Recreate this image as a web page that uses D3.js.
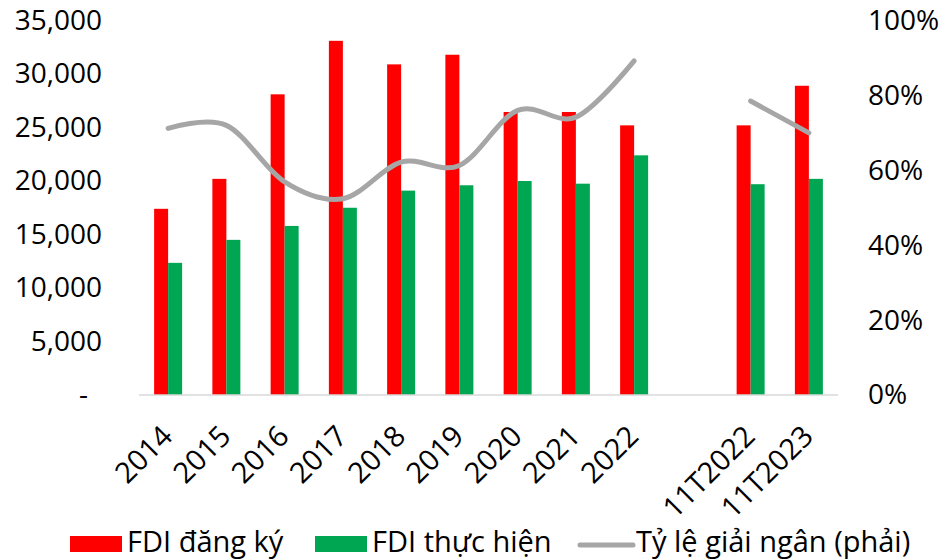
<!DOCTYPE html>
<html>
<head>
<meta charset="utf-8">
<script src="https://cdn.jsdelivr.net/npm/d3@7"></script>
<style>
  body { margin: 0; background: #fff; }
  svg text { font-family: "Open Sans", "Noto Sans", sans-serif; fill: #000; }
</style>
</head>
<body>
<div id="chart"></div>
<script>
// categories (empty slot between 2022 and the 11-month pair)
const categories = ["2014", "2015", "2016", "2017", "2018", "2019", "2020", "2021", "2022", "", "11T2022", "11T2023"];

// FDI dang ky (registered), million USD
const registered = [17400, 20200, 28100, 33100, 30900, 31800, 26450, 26450, 25200, null, 25200, 28900];
// FDI thuc hien (disbursed), million USD
const disbursed = [12350, 14500, 15800, 17500, 19100, 19600, 20000, 19750, 22400, null, 19700, 20200];
// Ty le giai ngan (right axis)
const ratio = [0.712, 0.72, 0.569, 0.524, 0.622, 0.613, 0.76, 0.742, 0.892, null, 0.785, 0.70];

const leftTicks = [0, 5000, 10000, 15000, 20000, 25000, 30000, 35000];
const rightTicks = [0, 0.2, 0.4, 0.6, 0.8, 1.0];

const legendItems = ["FDI đăng ký", "FDI thực hiện", "Tỷ lệ giải ngân (phải)"];

const width = 943, height = 560;
const plot = {left: 139, right: 838, top: 20.5, bottom: 395};
const red = "#FF0000", green = "#00A651", grey = "#A6A6A6";

const svg = d3.select("#chart").append("svg")
    .attr("width", width)
    .attr("height", height);

const x = d3.scaleBand()
    .domain(d3.range(categories.length))
    .range([plot.left, plot.right])
    .paddingInner(0).paddingOuter(0);

const y = d3.scaleLinear().domain([0, 35000]).range([plot.bottom, plot.top]);
const yRight = d3.scaleLinear().domain([0, 1]).range([plot.bottom, plot.top]);

const barW = 14;

// bars
svg.append("g").selectAll("rect.reg")
    .data(registered.map((v, i) => ({v, i})).filter(d => d.v != null))
    .join("rect")
    .attr("class", "reg")
    .attr("x", d => x(d.i) + x.bandwidth() / 2 - barW)
    .attr("y", d => y(d.v))
    .attr("width", barW)
    .attr("height", d => y(0) - y(d.v))
    .attr("fill", red);

svg.append("g").selectAll("rect.dis")
    .data(disbursed.map((v, i) => ({v, i})).filter(d => d.v != null))
    .join("rect")
    .attr("class", "dis")
    .attr("x", d => x(d.i) + x.bandwidth() / 2)
    .attr("y", d => y(d.v))
    .attr("width", barW)
    .attr("height", d => y(0) - y(d.v))
    .attr("fill", green);

// baseline
svg.append("line")
    .attr("x1", plot.left).attr("x2", plot.right)
    .attr("y1", y(0)).attr("y2", y(0))
    .attr("stroke", "#D9D9D9")
    .attr("stroke-width", 1.5);

// ratio line, broken at the empty slot
const line = d3.line()
    .defined(d => d.v != null)
    .x(d => x(d.i) + x.bandwidth() / 2)
    .y(d => yRight(d.v))
    .curve(d3.curveCatmullRom.alpha(0));

svg.append("path")
    .datum(ratio.map((v, i) => ({v, i})))
    .attr("d", line)
    .attr("fill", "none")
    .attr("stroke", grey)
    .attr("stroke-width", 5)
    .attr("stroke-linecap", "round");

// left axis
const gl = svg.append("g")
    .attr("transform", "translate(110,0)")
    .call(d3.axisLeft(y).tickValues(leftTicks).tickSize(0).tickPadding(8)
        .tickFormat(d => d === 0 ? "-" : d3.format(",")(d)));
gl.select(".domain").remove();
gl.selectAll("text").style("font-size", "28px");
gl.selectAll(".tick").filter(d => d === 0).select("text").attr("x", -22);

// right axis
const gr = svg.append("g")
    .attr("transform", "translate(860,0)")
    .call(d3.axisRight(yRight).tickValues(rightTicks).tickSize(0).tickPadding(8)
        .tickFormat(d3.format(".0%")));
gr.select(".domain").remove();
gr.selectAll("text").style("font-size", "28px");

// category axis
const gx = svg.append("g")
    .attr("transform", `translate(0,${plot.bottom})`)
    .call(d3.axisBottom(x).tickSize(0).tickFormat(i => categories[i]));
gx.select(".domain").remove();
gx.selectAll("text")
    .attr("x", 0).attr("y", 0).attr("dy", 0)
    .attr("text-anchor", "end")
    .attr("transform", "translate(6,43) rotate(-45)")
    .style("font-size", "29px");

// legend
const lg = svg.append("g").attr("transform", "translate(0,552)");
lg.append("rect").attr("x", 70).attr("y", -16).attr("width", 52).attr("height", 16).attr("fill", red);
lg.append("rect").attr("x", 315).attr("y", -16).attr("width", 52).attr("height", 16).attr("fill", green);
lg.append("line").attr("x1", 580).attr("x2", 633).attr("y1", -7).attr("y2", -7)
    .attr("stroke", grey).attr("stroke-width", 5).attr("stroke-linecap", "round");
lg.selectAll("text.leg")
    .data(legendItems)
    .join("text")
    .attr("class", "leg")
    .attr("x", (d, i) => [127, 372, 636][i])
    .attr("y", 0)
    .style("font-size", "29px")
    .text(d => d);
</script>
</body>
</html>
